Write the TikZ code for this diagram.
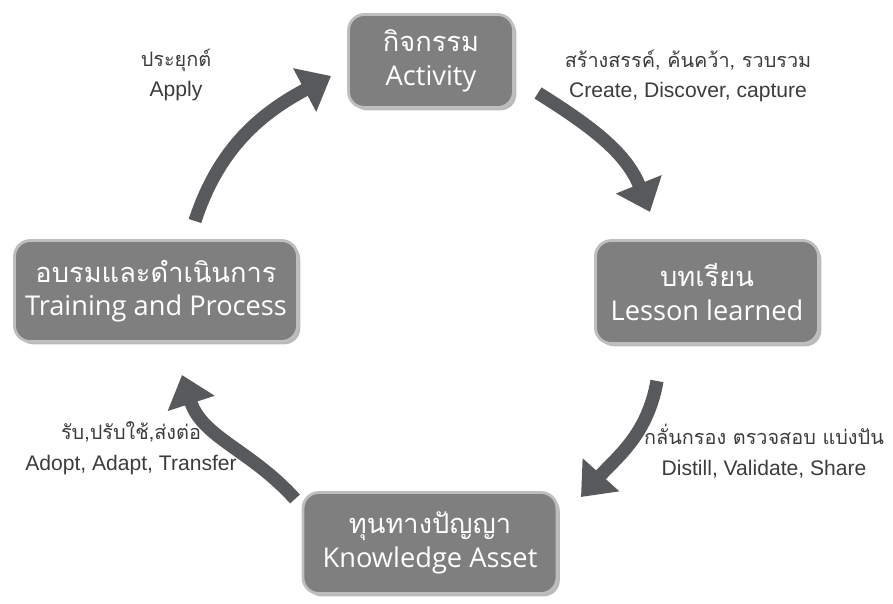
\documentclass[tikz,border=0pt]{standalone}
\usepackage{fontspec}
\setmainfont{Liberation Sans}
\newfontfamily\thai[Script=Thai]{Loma}
\newfontfamily\boxfont{Open Sans}
\usetikzlibrary{arrows.meta, shadows}
\definecolor{boxgray}{HTML}{7F7F7F}
\definecolor{edgegray}{HTML}{BEBEBE}
\definecolor{arrowgray}{HTML}{58595B}
\definecolor{labelgray}{HTML}{3C3C3C}

\begin{document}
\begin{tikzpicture}[x=0.02cm, y=0.02cm,
      stage/.style={draw=edgegray, line width=1.6pt, rounded corners=9pt, fill=boxgray,
                    text=white, align=center, font=\boxfont\fontsize{15.5}{19}\selectfont,
                    drop shadow={shadow xshift=1.6pt, shadow yshift=-1.6pt, opacity=0.55}},
      tag/.style={align=center, text=labelgray, font=\fontsize{12}{17.5}\selectfont},
      flow/.style={draw=arrowgray, line width=7.5pt, -{Triangle[length=17pt, width=27pt]}}
    ]
    \useasboundingbox (0,0) rectangle (893,603);

    \node[stage, minimum width=3.3cm,  minimum height=1.86cm] (act)    at (431,542) {{\thai กิจกรรม}\\Activity};
    \node[stage, minimum width=4.46cm, minimum height=2.06cm] (lesson) at (707,311) {{\thai บทเรียน}\\Lesson learned};
    \node[stage, minimum width=5.08cm, minimum height=2.02cm] (asset)  at (430,60)  {{\thai ทุนทางปัญญา}\\Knowledge Asset};
    \node[stage, minimum width=5.66cm, minimum height=2.02cm] (train)  at (156,312) {{\thai อบรมและดำเนินการ}\\Training and Process};

    \node[tag] (apply)   at (176,528) {{\thai\fontsize{11.3}{17.5}\selectfont ประยุกต์}\\Apply};
    \node[tag] (create)  at (688,527) {{\thai\fontsize{11.3}{17.5}\selectfont สร้างสรรค์, ค้นคว้า, รวบรวม}\\Create, Discover, capture};
    \node[tag] (distill) at (764,152) {{\thai\fontsize{11.3}{17.5}\selectfont กลั่นกรอง ตรวจสอบ แบ่งปัน}\\Distill, Validate, Share};
    \node[tag] (adopt)   at (131,155) {{\thai\fontsize{11.3}{17.5}\selectfont รับ,ปรับใช้,ส่งต่อ}\\Adopt, Adapt, Transfer};

    % ends of the arrows
    \coordinate (a1) at (538,510); \coordinate (b1) at (650,391);
    \coordinate (a2) at (657,222); \coordinate (b2) at (581,106);
    \coordinate (a3) at (295,104); \coordinate (b3) at (182,228);
    \coordinate (a4) at (195,382); \coordinate (b4) at (331,527);

    \draw[flow] (a1) to[out=-32, in=112] (b1);
    \draw[flow] (a2) to[out=-100, in=48] (b2);
    \draw[flow] (a3) to[out=132, in=-72] (b3);
    \draw[flow] (a4) to[out=72, in=-152] (b4);
  \end{tikzpicture}
\end{document}
